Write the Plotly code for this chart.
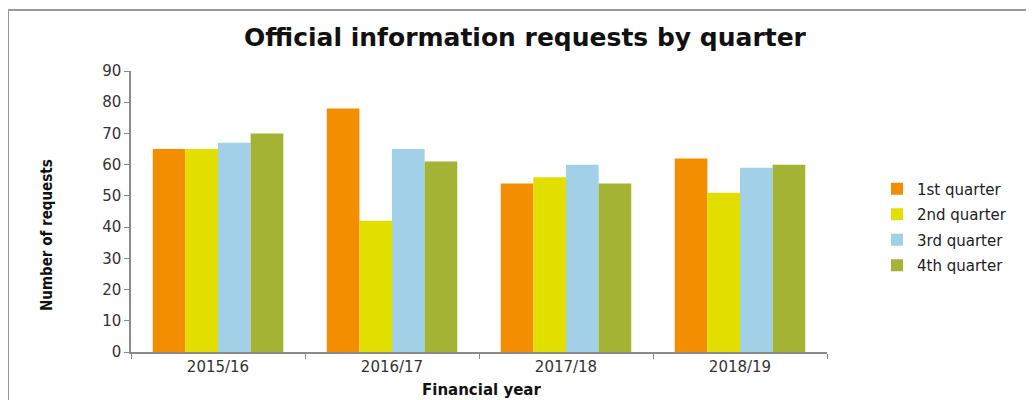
import plotly.graph_objects as go

years = ["2015/16", "2016/17", "2017/18", "2018/19"]
quarters = ["1st quarter", "2nd quarter", "3rd quarter", "4th quarter"]
q1 = [65, 78, 54, 62]
q2 = [65, 42, 56, 51]
q3 = [67, 65, 60, 59]
q4 = [70, 61, 54, 60]

_C = ["#F28E00", "#E1DE00", "#A2D0E6", "#A5B334"]

# the page body adds an 8px margin, so the figure is drawn 8px smaller
OFF = 8
W, H = 1034 - OFF, 400 - OFF
L, R, T, B = 131 - OFF, 1034 - 827, 71 - OFF, 400 - 352
pw, ph = W - L - R, H - T - B
Y0 = 352 - OFF  # pixel row of value 0


def px_x(x):
    return (x - OFF - L) / pw


def px_y(y):
    return (Y0 - (y - OFF)) / ph


fig = go.Figure()
for i, (name, vals) in enumerate(zip(quarters, [q1, q2, q3, q4])):
    fig.add_trace(go.Bar(
        x=years, y=vals, name=name,
        legendgroup=name,
        marker=dict(color=_C[i], line=dict(width=0)),
    ))

axis_col = "#8a8a8a"
fig.update_layout(
    width=W, height=H,
    margin=dict(l=L, r=R, t=T, b=B),
    paper_bgcolor="white",
    plot_bgcolor="white",
    barmode="group",
    bargap=0.25,
    bargroupgap=0,
    font=dict(family="DejaVu Sans, Verdana, sans-serif", size=13, color="#333"),
    title=dict(
        text="<b>Official information requests by quarter</b>",
        font=dict(family="DejaVu Sans, Verdana, sans-serif", size=25, color="#111"),
        x=(525 - OFF) / W, xanchor="center", xref="container",
        y=1 - (37 - OFF) / H, yanchor="middle", yref="container",
    ),
    xaxis=dict(
        showline=True, linecolor=axis_col, linewidth=1.5,
        ticks="outside", tickson="boundaries", ticklen=5, tickcolor=axis_col,
        tickfont=dict(size=15, color="#333"),
        showgrid=False,
    ),
    yaxis=dict(
        range=[0, 90], dtick=10,
        showline=True, linecolor=axis_col, linewidth=1.5,
        ticks="outside", ticklen=5, tickcolor=axis_col,
        tickfont=dict(size=15, color="#333"),
        showgrid=False, zeroline=False,
    ),
    legend=dict(
        x=px_x(877), xanchor="left",
        y=px_y(227), yanchor="middle",
        font=dict(size=15, color="#222"),
        tracegroupgap=3,
        itemwidth=30,
        bgcolor="rgba(0,0,0,0)",
    ),
    showlegend=True,
)

fig.add_annotation(
    text="<b>Number of requests</b>", textangle=-90,
    x=px_x(47), xref="paper", xanchor="center",
    y=px_y(235), yref="paper", yanchor="middle",
    showarrow=False,
    font=dict(family="DejaVu Sans Condensed, DejaVu Sans, sans-serif", size=15, color="#111"),
)
fig.add_annotation(
    text="<b>Financial year</b>",
    x=px_x(481), xref="paper", xanchor="center",
    y=px_y(390), yref="paper", yanchor="middle",
    showarrow=False,
    font=dict(family="DejaVu Sans, Verdana, sans-serif", size=15, color="#111"),
)

# chart frame (only top and left edges fall inside the picture)
fig.add_shape(
    type="rect", xref="paper", yref="paper",
    x0=px_x(8), x1=px_x(1100),
    y0=px_y(450), y1=px_y(10),
    line=dict(color="#999", width=2), layer="below",
)

fig.write_html("out.html")
